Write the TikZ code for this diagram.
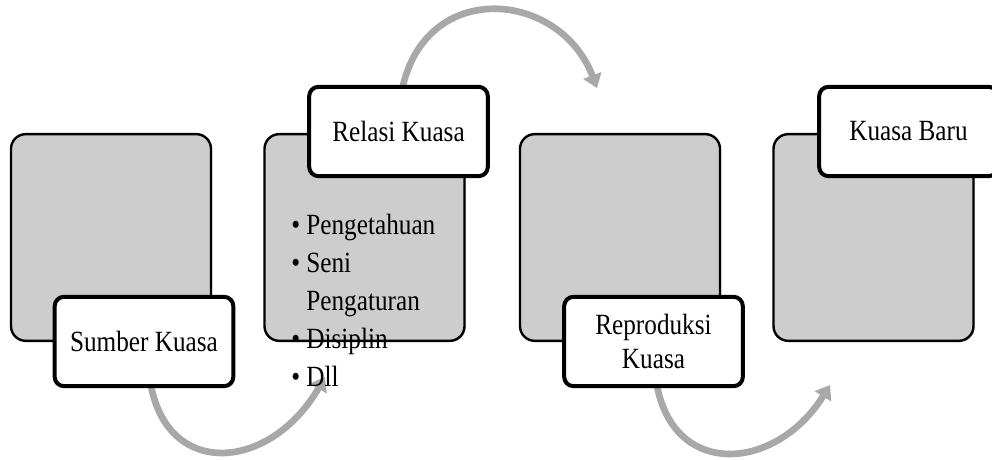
\documentclass[tikz,border=0pt]{standalone}
\usepackage{fontspec}
\setmainfont{Liberation Serif}[FakeStretch=0.86]
\usetikzlibrary{arrows.meta,shadows}
\definecolor{boxgray}{RGB}{205,205,205}
\definecolor{arrowgray}{RGB}{168,168,168}

\begin{document}
\begin{tikzpicture}[x=0.75pt,y=0.75pt,
  gray box/.style={rectangle,rounded corners=11pt,fill=boxgray,draw,line width=1.8pt,
    minimum width=150pt,minimum height=155pt,inner sep=0pt,
    drop shadow={opacity=0.25,shadow xshift=1pt,shadow yshift=-1pt}},
  label box/.style={rectangle,rounded corners=7pt,fill=white,draw,line width=3pt,
    minimum width=134pt,minimum height=67pt,align=center,font=\fontsize{22}{26}\selectfont,
    drop shadow={opacity=0.3,shadow xshift=1.2pt,shadow yshift=-1.2pt}},
  list text/.style={align=left,inner sep=0pt,font=\fontsize{22}{28.5}\selectfont},
  turn arrow/.style={draw=arrowgray,line width=5pt,-{Triangle[width=14pt,length=10pt]}}]

  \useasboundingbox (0,0) rectangle (992,460);

  % ends of the curved arrows
  \coordinate (a1) at (150,80);
  \coordinate (a2) at (325,83);
  \coordinate (b1) at (402,370);
  \coordinate (b2) at (597,372);
  \coordinate (c1) at (656,80);
  \coordinate (c2) at (830,75);

  \draw[turn arrow] (a1) .. controls (165,-20) and (270,-12) .. (a2);
  \draw[turn arrow] (b1) .. controls (425,482) and (560,470) .. (b2);
  \draw[turn arrow] (c1) .. controls (671,-20) and (776,-12) .. (c2);

  % gray boxes
  \node[gray box] (g1) at (111,222.5) {};
  \node[gray box] (g2) at (364.5,222.5) {};
  \node[gray box] (g3) at (620,222.5) {};
  \node[gray box] (g4) at (873.5,222.5) {};

  % labels
  \node[label box] (l1) at (144,118.5) {Sumber Kuasa};
  \node[label box] (l2) at (398.5,328.5) {Relasi Kuasa};
  \node[label box] (l3) at (653.5,118.5) {Reproduksi\\Kuasa};
  \node[label box] (l4) at (908.5,328.5) {Kuasa Baru};

  \node[list text,anchor=north west] (items) at (291,246) {%
    \textbullet\ Pengetahuan\\
    \textbullet\ Seni\\
    \hphantom{\textbullet\ }Pengaturan\\
    \textbullet\ Disiplin\\
    \textbullet\ Dll};

\end{tikzpicture}
\end{document}
